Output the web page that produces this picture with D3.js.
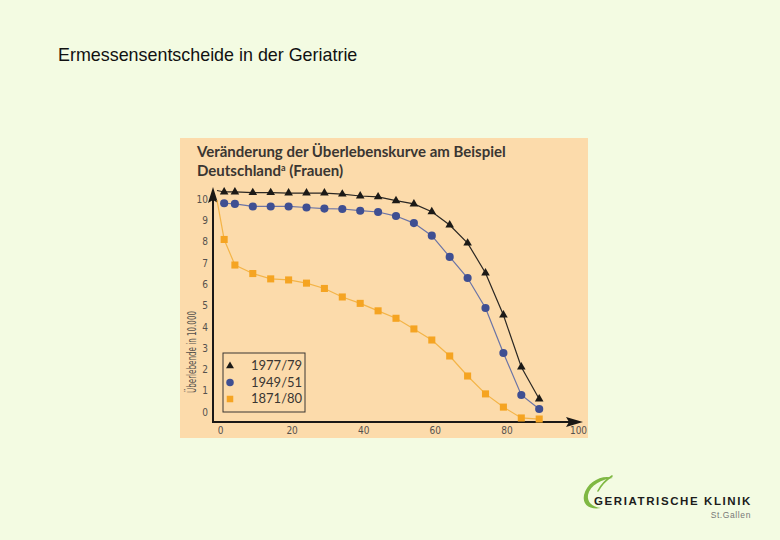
<!DOCTYPE html>
<html>
<head>
<meta charset="utf-8">
<script src="https://cdn.jsdelivr.net/npm/d3@7"></script>
<style>
	html, body { margin: 0; padding: 0; background: #f3fbe2; }
	svg { display: block; }
</style>
</head>
<body>
<div id="chart"></div>
<script>
/* global d3 */

// ages (years); index 0 is the line start on the axis, no marker there
var ages = [0, 2, 5, 10, 15, 20, 25, 30, 35, 40, 45, 50, 55, 60, 65, 70, 75, 80, 85, 90];

// survivors in 10.000
var v1977 = [10.4, 10.33, 10.33, 10.3, 10.3, 10.28, 10.28, 10.28, 10.23, 10.14, 10.1, 9.92, 9.77, 9.4, 8.78, 7.93, 6.53, 4.55, 2.11, 0.61];
var v1949 = [null, 9.8, 9.77, 9.65, 9.65, 9.65, 9.6, 9.55, 9.53, 9.45, 9.39, 9.2, 8.87, 8.28, 7.28, 6.29, 4.88, 2.77, 0.8, 0.14];
var v1871 = [9.95, 8.1, 6.9, 6.5, 6.25, 6.2, 6.05, 5.8, 5.4, 5.1, 4.75, 4.4, 3.9, 3.38, 2.63, 1.69, 0.85, 0.23, -0.28, -0.33];

var seriesNames = ['1977/79', '1949/51', '1871/80'];
var xTicks = [0, 20, 40, 60, 80, 100];
var yTicks = [0, 1, 2, 3, 4, 5, 6, 7, 8, 9, 10];

var series = [
	{ name: seriesNames[0], values: v1977, symbol: d3.symbolTriangle, size: 32, fill: '#1c1a17', stroke: '#2a2723' },
	{ name: seriesNames[1], values: v1949, symbol: d3.symbolCircle, size: 52, fill: '#3f4f92', stroke: '#6b74a6' },
	{ name: seriesNames[2], values: v1871, symbol: d3.symbolSquare, size: 50, fill: '#f5a422', stroke: '#f4b447' }
];

var W = 780, H = 540;

var svg = d3.select('#chart').append('svg')
	.attr('width', W)
	.attr('height', H);

svg.append('rect')
	.attr('width', W).attr('height', H)
	.attr('fill', '#f3fbe2');

// slide title
svg.append('text')
	.attr('x', 58).attr('y', 61)
	.style('font-family', '"Liberation Sans", Arial, sans-serif')
	.style('font-size', '17.9px')
	.attr('fill', '#111')
	.text('Ermessensentscheide in der Geriatrie');

// peach panel
svg.append('rect')
	.attr('x', 180).attr('y', 138)
	.attr('width', 408).attr('height', 300)
	.attr('fill', '#fcdbab');

var titleFont = 'Lato, "Open Sans", sans-serif';
svg.append('text')
	.attr('x', 197).attr('y', 157)
	.style('font-family', titleFont)
	.style('font-weight', 'bold')
	.style('font-size', '15px')
	.attr('fill', '#3a3632')
	.text('Veränderung der Überlebenskurve am Beispiel');

var t2 = svg.append('text')
	.attr('x', 197).attr('y', 176)
	.style('font-family', titleFont)
	.style('font-weight', 'bold')
	.style('font-size', '15px')
	.attr('fill', '#3a3632');
t2.append('tspan').text('Deutschland');
t2.append('tspan').attr('dy', -5).style('font-size', '9px').text('a');
t2.append('tspan').attr('dy', 5).text(' (Frauen)');

var x = d3.scaleLinear().domain([0, 100]).range([217, 575]);
var y = d3.scaleLinear().domain([0, 10]).range([412, 199]);

var axisX0 = 213, axisY0 = 422;
var tickFont = '"DejaVu Sans Condensed", "DejaVu Sans", sans-serif';

// tick labels through d3 axes, lines drawn separately with arrows
var gx = svg.append('g')
	.attr('transform', 'translate(3,' + 427 + ')')
	.call(d3.axisBottom(x).tickValues(xTicks).tickSize(0).tickPadding(0));
gx.select('.domain').remove();
gx.selectAll('text')
	.style('font-family', tickFont)
	.style('font-size', '10px')
	.attr('fill', '#55514d')
	.attr('dy', '0.71em');

var gy = svg.append('g')
	.attr('transform', 'translate(' + 208 + ',0)')
	.call(d3.axisLeft(y).tickValues(yTicks).tickSize(0).tickPadding(0));
gy.select('.domain').remove();
gy.selectAll('text')
	.style('font-family', tickFont)
	.style('font-size', '10px')
	.attr('fill', '#55514d');

// axis lines
svg.append('line')
	.attr('x1', axisX0).attr('y1', axisY0)
	.attr('x2', 572).attr('y2', axisY0)
	.attr('stroke', '#1a1816').attr('stroke-width', 2);
svg.append('path')
	.attr('d', 'M583,' + axisY0 + 'L566,' + (axisY0 - 5) + 'L569,' + axisY0 + 'L566,' + (axisY0 + 5) + 'Z')
	.attr('fill', '#1a1816');

svg.append('line')
	.attr('x1', axisX0).attr('y1', axisY0 + 1)
	.attr('x2', axisX0).attr('y2', 198)
	.attr('stroke', '#1a1816').attr('stroke-width', 2);
svg.append('path')
	.attr('d', 'M' + axisX0 + ',187L' + (axisX0 - 5) + ',203L' + axisX0 + ',200L' + (axisX0 + 5) + ',203Z')
	.attr('fill', '#1a1816');

// y axis title
svg.append('text')
	.attr('transform', 'translate(196,352) rotate(-90)')
	.attr('text-anchor', 'middle')
	.attr('textLength', 82)
	.attr('lengthAdjust', 'spacingAndGlyphs')
	.style('font-family', tickFont)
	.style('font-size', '12.5px')
	.attr('fill', '#55514d')
	.text('Überlebende in 10.000');

// lines and markers
var line = d3.line()
	.x(function (d) { return x(d.age); })
	.y(function (d) { return y(d.v); });

series.slice().reverse().forEach(function (s) {
	var pts = ages.map(function (a, i) { return { age: a, v: s.values[i] }; });
	var shown = pts.filter(function (d) { return d.v !== null; });
	svg.append('path')
		.datum(shown)
		.attr('d', line)
		.attr('fill', 'none')
		.attr('stroke', s.stroke)
		.attr('stroke-width', 1.2);
	svg.selectAll(null)
		.data(pts.slice(1))
		.enter().append('path')
			.attr('transform', function (d) { return 'translate(' + x(d.age) + ',' + y(d.v) + ')'; })
			.attr('d', d3.symbol().type(s.symbol).size(s.size))
			.attr('fill', s.fill);
});

// legend
var legend = svg.append('g').attr('transform', 'translate(223,353)');
legend.append('rect')
	.attr('width', 82).attr('height', 59)
	.attr('fill', 'none')
	.attr('stroke', '#3a3632')
	.attr('stroke-width', 1);
legend.selectAll('path')
	.data(series)
	.enter().append('path')
		.attr('transform', function (d, i) { return 'translate(7,' + (13 + i * 16.5) + ')'; })
		.attr('d', function (d) { return d3.symbol().type(d.symbol).size(d.size * 0.85)(); })
		.attr('fill', function (d) { return d.fill; });
legend.selectAll('text')
	.data(series)
	.enter().append('text')
		.attr('x', 28)
		.attr('y', function (d, i) { return 17 + i * 16.5; })
		.style('font-family', titleFont)
		.style('font-size', '13px')
		.attr('fill', '#3a3632')
		.text(function (d) { return d.name; });

// clinic logo
var logo = svg.append('g');
logo.append('path')
	.attr('d', 'M613,478 C602,474 587,482 584,495 C582,505 590,510 601,508 C592,507 587,502 588,495 C590,485 602,479 613,478 Z')
	.attr('fill', '#7fb843');
logo.append('path')
	.attr('d', 'M598,491 C601,485 606,480 612,476')
	.attr('fill', 'none')
	.attr('stroke', '#7fb843')
	.attr('stroke-width', 1.6)
	.attr('stroke-linecap', 'round');
logo.append('text')
	.attr('x', 594).attr('y', 505)
	.style('font-family', '"Liberation Sans", Arial, sans-serif')
	.style('font-weight', 'bold')
	.style('font-size', '11.5px')
	.style('letter-spacing', '1.6px')
	.attr('fill', '#1c1c1c')
	.text('GERIATRISCHE KLINIK');
logo.append('text')
	.attr('x', 751).attr('y', 518)
	.attr('text-anchor', 'end')
	.style('font-family', '"Liberation Sans", Arial, sans-serif')
	.style('font-size', '8.5px')
	.style('letter-spacing', '0.6px')
	.attr('fill', '#777')
	.text('St.Gallen');
</script>
</body>
</html>
